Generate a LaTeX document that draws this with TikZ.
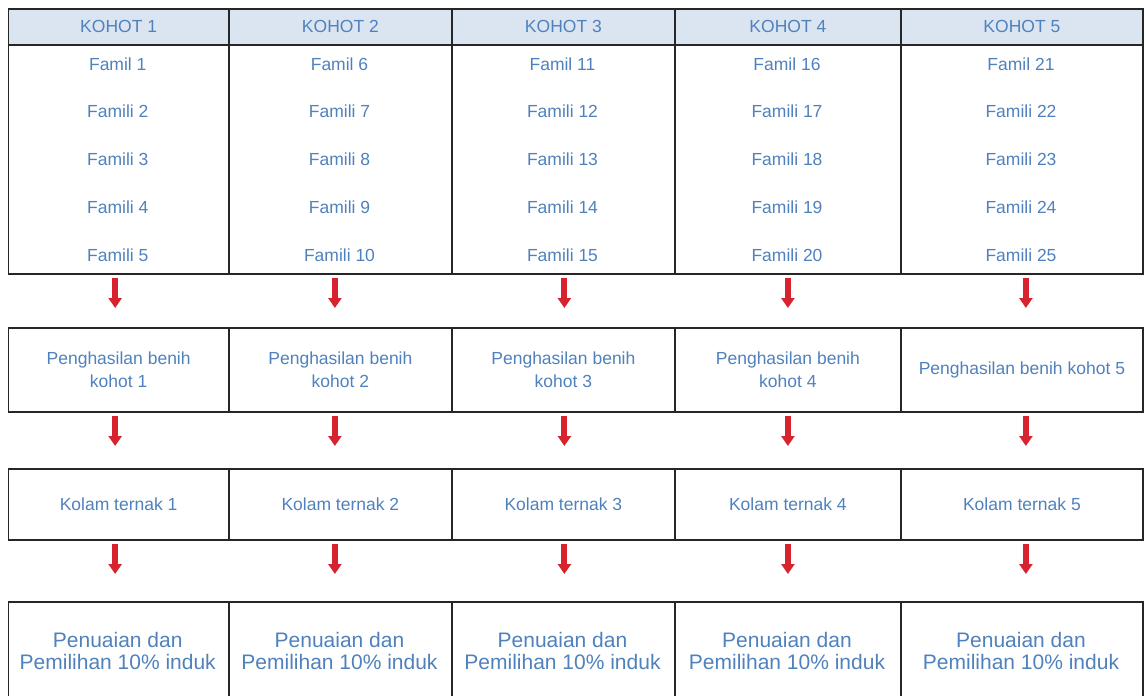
\documentclass[tikz,border=0pt]{standalone}
\usepackage{fontspec}
\setmainfont{Liberation Sans}
\usetikzlibrary{arrows.meta}
\definecolor{teksbiru}{HTML}{4F81BD}
\definecolor{kepalabiru}{HTML}{DBE5F1}
\definecolor{panahmerah}{HTML}{D7232E}
\definecolor{garis}{HTML}{262626}

\begin{document}
\begin{tikzpicture}[x=1pt,y=-1pt,
    kotak/.style={draw=garis, line width=1.8pt, inner sep=0pt, anchor=north west},
    teks/.style={text=teksbiru, font=\fontsize{17.5}{23}\selectfont, align=center, inner sep=0pt},
    teksbesar/.style={text=teksbiru, font=\fontsize{21}{22}\selectfont, align=center, inner sep=0pt},
    panah/.style={draw=panahmerah, line width=6pt, -{Triangle[width=13pt,length=10pt]}}]
    \useasboundingbox (0,0) rectangle (1144,696);
    \clip (0,0) rectangle (1144,696);
    \foreach \i/\xa/\xb/\dx in {1/7.5/228/-3.5, 2/228/451/-5.5, 3/451/674/1, 4/674/900/0, 5/900/1142/4} {
        \pgfmathsetmacro\w{\xb-\xa}
        \pgfmathsetmacro\xc{(\xa+\xb)/2}
        % kohot dan famili
        \node[kotak, fill=kepalabiru, minimum width=\w pt, minimum height=36pt] (kohot\i) at (\xa,8) {};
        \node[teks] at (kohot\i.center) {KOHOT \i};
        \node[kotak, minimum width=\w pt, minimum height=229pt] (famili\i) at (\xa,44) {};
        \foreach \k/\y in {1/64, 2/111, 3/159, 4/207, 5/255} {
            \pgfmathtruncatemacro\n{5*(\i-1)+\k}
            \ifnum\k=1
                \node[teks] (famili\i-\k) at (\xc,\y) {Famil \n};
            \else
                \node[teks] (famili\i-\k) at (\xc,\y) {Famili \n};
            \fi
        }
        % penghasilan benih
        \ifnum\i=5
            \node[kotak, teks, minimum width=\w pt, minimum height=84pt] (benih\i) at (\xa,327) {Penghasilan benih kohot \i};
        \else
            \node[kotak, teks, minimum width=\w pt, minimum height=84pt] (benih\i) at (\xa,327) {Penghasilan benih\\kohot \i};
        \fi
        % kolam ternak
        \node[kotak, teks, minimum width=\w pt, minimum height=71pt] (kolam\i) at (\xa,468) {Kolam ternak \i};
        % penuaian
        \node[kotak, minimum width=\w pt, minimum height=120pt] (induk\i) at (\xa,601) {};
        \node[teksbesar] (penuaian\i) at (\xc,651) {Penuaian dan\\Pemilihan 10\% induk};
        % anak panah
        \draw[panah] ([xshift=\dx pt, yshift=-3pt]famili\i.south) -- ([xshift=\dx pt, yshift=19pt]benih\i.north);
        \draw[panah] ([xshift=\dx pt, yshift=-3pt]benih\i.south) -- ([xshift=\dx pt, yshift=22pt]kolam\i.north);
        \draw[panah] ([xshift=\dx pt, yshift=-3pt]kolam\i.south) -- ([xshift=\dx pt, yshift=27pt]induk\i.north);
    }
\end{tikzpicture}
\end{document}
